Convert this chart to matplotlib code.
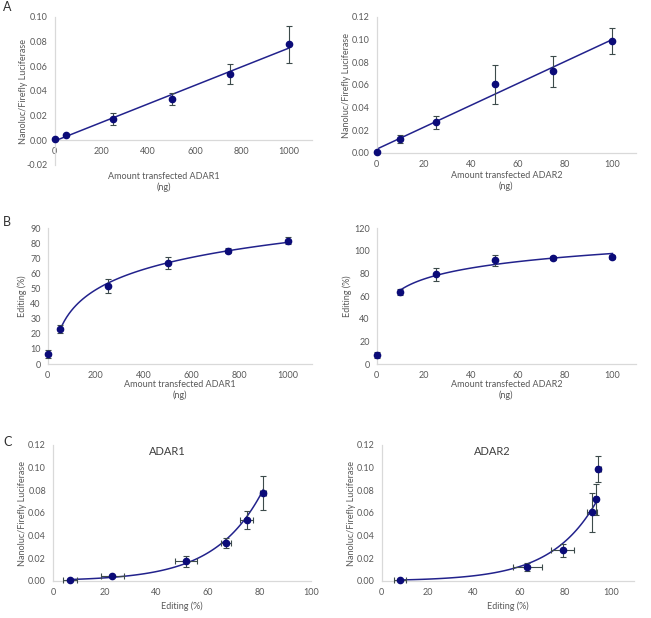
import matplotlib.pyplot as plt
import numpy as np

plt.rcParams['font.family'] = ['Lato', 'DejaVu Sans']

# ---- data ----
adar1_ng = [0, 50, 250, 500, 750, 1000]
adar2_ng = [0, 10, 25, 50, 75, 100]

# Nanoluc/Firefly ratio (panel A)
adar1_luc = [0.001, 0.0045, 0.0175, 0.0335, 0.054, 0.078]
adar1_luc_err = [0.0005, 0.001, 0.005, 0.0045, 0.008, 0.015]
adar2_luc = [0.001, 0.0125, 0.027, 0.0605, 0.072, 0.099]
adar2_luc_err = [0.0005, 0.0035, 0.006, 0.017, 0.0135, 0.0115]

# editing % (panel B)
adar1_edit = [6.5, 23, 51.5, 67, 75, 81.5]
adar1_edit_err = [2.5, 2.5, 4.5, 4, 1.5, 2.3]
adar2_edit = [8, 63.5, 79, 91.5, 93.5, 94.5]
adar2_edit_err = [2.5, 2.5, 6, 5, 2, 1.5]

# horizontal error bars as drawn in panel C
adar1_edit_xerr = [2.7, 4.4, 4.2, 1.8, 2.5, 1.1]
adar2_edit_xerr = [2.7, 6.3, 5, 2.2, 1, 1.2]

W, H = 651, 618
MARKER = '#0b0b78'
LINE = '#22228c'
ERR = '#3d4b4b'
AXIS = '#d9d9d9'
TXT = '#595959'


def make_axes(fig, x0, x1, ytop, ybot):
    # pixel box -> figure fraction
    ax = fig.add_axes([x0 / W, 1 - ybot / H, (x1 - x0) / W, (ybot - ytop) / H])
    for s in ('top', 'right'):
        ax.spines[s].set_visible(False)
    for s in ('left', 'bottom'):
        ax.spines[s].set_color(AXIS)
        ax.spines[s].set_linewidth(0.9)
    ax.tick_params(length=0, labelsize=6.5, colors=TXT, pad=5)
    return ax


def draw_points(ax, x, y, yerr, xerr=None):
    cont = ax.errorbar(x, y, yerr=yerr, xerr=xerr, fmt='o', ms=4.5, color=MARKER,
                       ecolor=ERR, elinewidth=0.8, capsize=2.5, capthick=0.8, zorder=3)
    # points at x=0 sit on the axis line and must not be cut in half
    for art in cont.get_children():
        art.set_clip_on(False)


def set_ylabel(ax, text, right_px, x0, x1):
    ax.set_ylabel(text, fontsize=6.5, color=TXT)
    ax.yaxis.set_label_coords((right_px - x0) / (x1 - x0), 0.5)


fig = plt.figure(figsize=(W / 100, H / 100), dpi=100)

# ---- A: linear trend ----
for x, y, err, name, box, xlim, ylim, xlab, ylab_px in [
        (adar1_ng, adar1_luc, adar1_luc_err, 'ADAR1', (54.5, 312, 17, 165), 1100, (-0.02, 0.10), 0.425, 28),
        (adar2_ng, adar2_luc, adar2_luc_err, 'ADAR2', (376.7, 636, 17, 153), 110, (0, 0.12), 0.5, 351)]:
    ax = make_axes(fig, *box)
    slope, icpt = np.polyfit(x, y, 1)
    xs = np.linspace(0, max(x), 50)
    ax.plot(xs, slope * xs + icpt, color=LINE, lw=1.1, zorder=2)
    draw_points(ax, x, y, err)
    ax.set_xlim(0, xlim)
    ax.set_ylim(*ylim)
    ax.set_yticks(np.arange(ylim[0], ylim[1] + 1e-9, 0.02))
    ax.yaxis.set_major_formatter(plt.FormatStrFormatter('%.2f'))
    ax.set_xticks(np.arange(0, max(x) + 1, max(x) / 5))
    ax.spines['bottom'].set_position(('data', 0))
    ax.set_xlabel('Amount transfected ' + name + '\n(ng)', fontsize=6.5, color=TXT, labelpad=2)
    ax.xaxis.set_label_coords(xlab, -0.13 if name == 'ADAR2' else -0.05)
    set_ylabel(ax, 'Nanoluc/Firefly Luciferase', ylab_px, box[0], box[1])

# ---- B: logarithmic trend ----
for x, y, err, name, box, xlim, ytop, ylab_px in [
        (adar1_ng, adar1_edit, adar1_edit_err, 'ADAR1', (47.7, 312, 228, 364), 1100, 90, 27),
        (adar2_ng, adar2_edit, adar2_edit_err, 'ADAR2', (376.7, 636, 228, 364), 110, 120, 352)]:
    ax = make_axes(fig, *box)
    xp = np.array(x[1:], dtype=float)
    a, b = np.polyfit(np.log(xp), y[1:], 1)
    xs = np.linspace(xp.min(), xp.max(), 100)
    ax.plot(xs, a * np.log(xs) + b, color=LINE, lw=1.1, zorder=2)
    draw_points(ax, x, y, err)
    ax.set_xlim(0, xlim)
    ax.set_ylim(0, ytop)
    ax.set_yticks(np.arange(0, ytop + 1, 10 if ytop == 90 else 20))
    ax.set_xticks(np.arange(0, max(x) + 1, max(x) / 5))
    ax.set_xlabel('Amount transfected ' + name + '\n(ng)', fontsize=6.5, color=TXT, labelpad=2)
    ax.xaxis.set_label_coords(0.5, -0.12)
    set_ylabel(ax, 'Editing (%)', ylab_px, box[0], box[1])

# ---- C: exponential trend ----
for x, y, xerr, yerr, name, box, xlim, tx, ylab_px in [
        (adar1_edit, adar1_luc, adar1_edit_xerr, adar1_luc_err, 'ADAR1', (53, 311, 445, 581), 100, 0.445, 27),
        (adar2_edit, adar2_luc, adar2_edit_xerr, adar2_luc_err, 'ADAR2', (381.7, 634, 445, 581), 110, 0.44, 356)]:
    ax = make_axes(fig, *box)
    b, ln_a = np.polyfit(x, np.log(y), 1)
    xs = np.linspace(min(x), max(x), 100)
    ax.plot(xs, np.exp(ln_a + b * xs), color=LINE, lw=1.1, zorder=2)
    draw_points(ax, x, y, yerr, xerr)
    ax.set_xlim(0, xlim)
    ax.set_ylim(0, 0.12)
    ax.set_yticks(np.arange(0, 0.121, 0.02))
    ax.yaxis.set_major_formatter(plt.FormatStrFormatter('%.2f'))
    ax.set_xticks(np.arange(0, 101, 20))
    ax.set_xlabel('Editing (%)', fontsize=6.5, color=TXT)
    ax.xaxis.set_label_coords(0.5, -0.15)
    set_ylabel(ax, 'Nanoluc/Firefly Luciferase', ylab_px, box[0], box[1])
    ax.text(tx, 0.95, name, transform=ax.transAxes, ha='center', va='center',
            fontsize=8, color='#404040')

for letter, py in [('A', 7), ('B', 222), ('C', 442)]:
    fig.text(3 / W, 1 - py / H, letter, fontsize=9, color='#303030', va='center')

fig.savefig('out.png', dpi=100)
